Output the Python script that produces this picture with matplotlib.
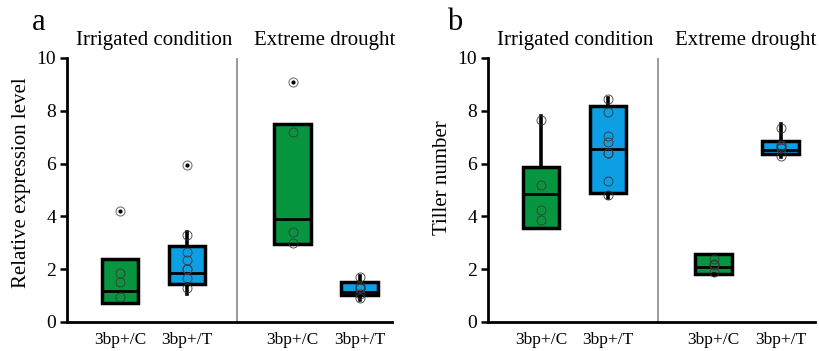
import matplotlib
matplotlib.use("Agg")
import matplotlib.pyplot as plt

plt.rcParams['font.family'] = ['Liberation Serif', 'DejaVu Serif']

groups = ["Irrigated condition", "Extreme drought"]
genotypes = ["3bp+/C", "3bp+/T", "3bp+/C", "3bp+/T"]
panel_letters = ["a", "b"]
ylabels = ["Relative expression level", "Tiller number"]
yticks = [0, 2, 4, 6, 8, 10]

# Panel a: relative expression level (box stats: q1, median, q3, whisker low, whisker high)
a_q1 = [0.72, 1.44, 2.95, 1.02]
a_med = [1.17, 1.87, 3.90, 1.15]
a_q3 = [2.38, 2.88, 7.50, 1.52]
a_wlo = [0.72, 1.05, 2.95, 0.85]
a_whi = [2.38, 3.40, 7.50, 1.75]
a_points = [
    [1.85, 1.5, 0.95],
    [3.3, 2.65, 2.35, 2.0, 2.0, 1.65, 1.3],
    [7.2, 3.4, 3.0],
    [1.7, 1.35, 1.3, 1.3, 1.3, 1.05, 0.9],
]
a_outliers = [[4.2], [5.95], [9.1], []]

# Panel b: tiller number
b_q1 = [3.55, 4.88, 1.82, 6.37]
b_med = [4.85, 6.55, 2.07, 6.50]
b_q3 = [5.87, 8.18, 2.58, 6.85]
b_wlo = [3.55, 4.70, 1.78, 6.25]
b_whi = [7.80, 8.50, 2.58, 7.50]
b_points = [
    [7.65, 5.2, 4.25, 3.85],
    [8.45, 7.95, 7.05, 6.8, 6.4, 6.4, 5.35, 4.8],
    [2.4, 2.2, 2.2, 2.15, 1.9],
    [7.35, 6.7, 6.65, 6.6, 6.6, 6.3],
]
b_outliers = [[], [], [], []]

box_colors = ['#07963F', '#0C9FE3', '#07963F', '#0C9FE3']

fig = plt.figure(figsize=(8.2, 3.51), dpi=100)
W, H = 820, 351
axes_px = [(67, 392), (488, 815)]
positions = [0.79, 1.79, 3.37, 4.37]
divider_x = 2.54
heading_x = [1.30, 3.84]
ylabel_y = [0.527, 0.545]

panels = [
    (a_q1, a_med, a_q3, a_wlo, a_whi, a_points, a_outliers),
    (b_q1, b_med, b_q3, b_wlo, b_whi, b_points, b_outliers),
]

for i, (q1, med, q3, wlo, whi, pts, outs) in enumerate(panels):
    x0, x1 = axes_px[i]
    ax = fig.add_axes([x0 / W, (H - 322) / H, (x1 - x0) / W, (322 - 58) / H])
    stats = []
    for k in range(4):
        stats.append(dict(q1=q1[k], med=med[k], q3=q3[k], whislo=wlo[k],
                          whishi=whi[k], fliers=[]))
    bp = ax.bxp(stats, positions=positions, widths=0.55, patch_artist=True,
                showcaps=False, showfliers=False,
                boxprops=dict(linewidth=2.5, edgecolor='black'),
                medianprops=dict(color='black', linewidth=2.0),
                whiskerprops=dict(color='black', linewidth=2.6))
    for patch, c in zip(bp['boxes'], box_colors):
        patch.set_facecolor(c)
    for k in range(4):
        ax.plot([positions[k]] * len(pts[k]), pts[k], 'o', mfc='none',
                mec='#3a3a3a', mew=0.6, ms=6.5, zorder=5)
        if outs[k]:
            ax.plot([positions[k]] * len(outs[k]), outs[k], 'o', mfc='white',
                    mec='#777777', mew=0.8, ms=6.5, zorder=5)
            ax.plot([positions[k]] * len(outs[k]), outs[k], 'o', color='black',
                    ms=2.0, zorder=6)
    ax.axvline(divider_x, color='#808080', linewidth=1.1, zorder=1)
    ax.set_xlim(0, (x1 - x0) / 67.0)
    ax.set_ylim(0, 10)
    ax.set_yticks(yticks)
    ax.set_xticks(positions)
    ax.set_xticklabels(genotypes, fontsize=12.5)
    ax.tick_params(axis='x', length=0, pad=7)
    ax.tick_params(axis='y', length=5, width=1.8, labelsize=14, direction='out', pad=3)
    for s in ['top', 'right']:
        ax.spines[s].set_visible(False)
    for s in ['left', 'bottom']:
        ax.spines[s].set_linewidth(2.0)
    ax.set_ylabel(ylabels[i], fontsize=15, labelpad=4, y=ylabel_y[i])
    for g, hx in zip(groups, heading_x):
        ax.text(hx, 1.03, g, transform=ax.get_xaxis_transform(),
                ha='center', va='bottom', fontsize=15)

fig.text(39 / W, 1 - 23 / H, panel_letters[0], fontsize=22, ha='center', va='center')
fig.text(455 / W, 1 - 22 / H, panel_letters[1], fontsize=22, ha='center', va='center')

fig.savefig("out.png", dpi=100)
